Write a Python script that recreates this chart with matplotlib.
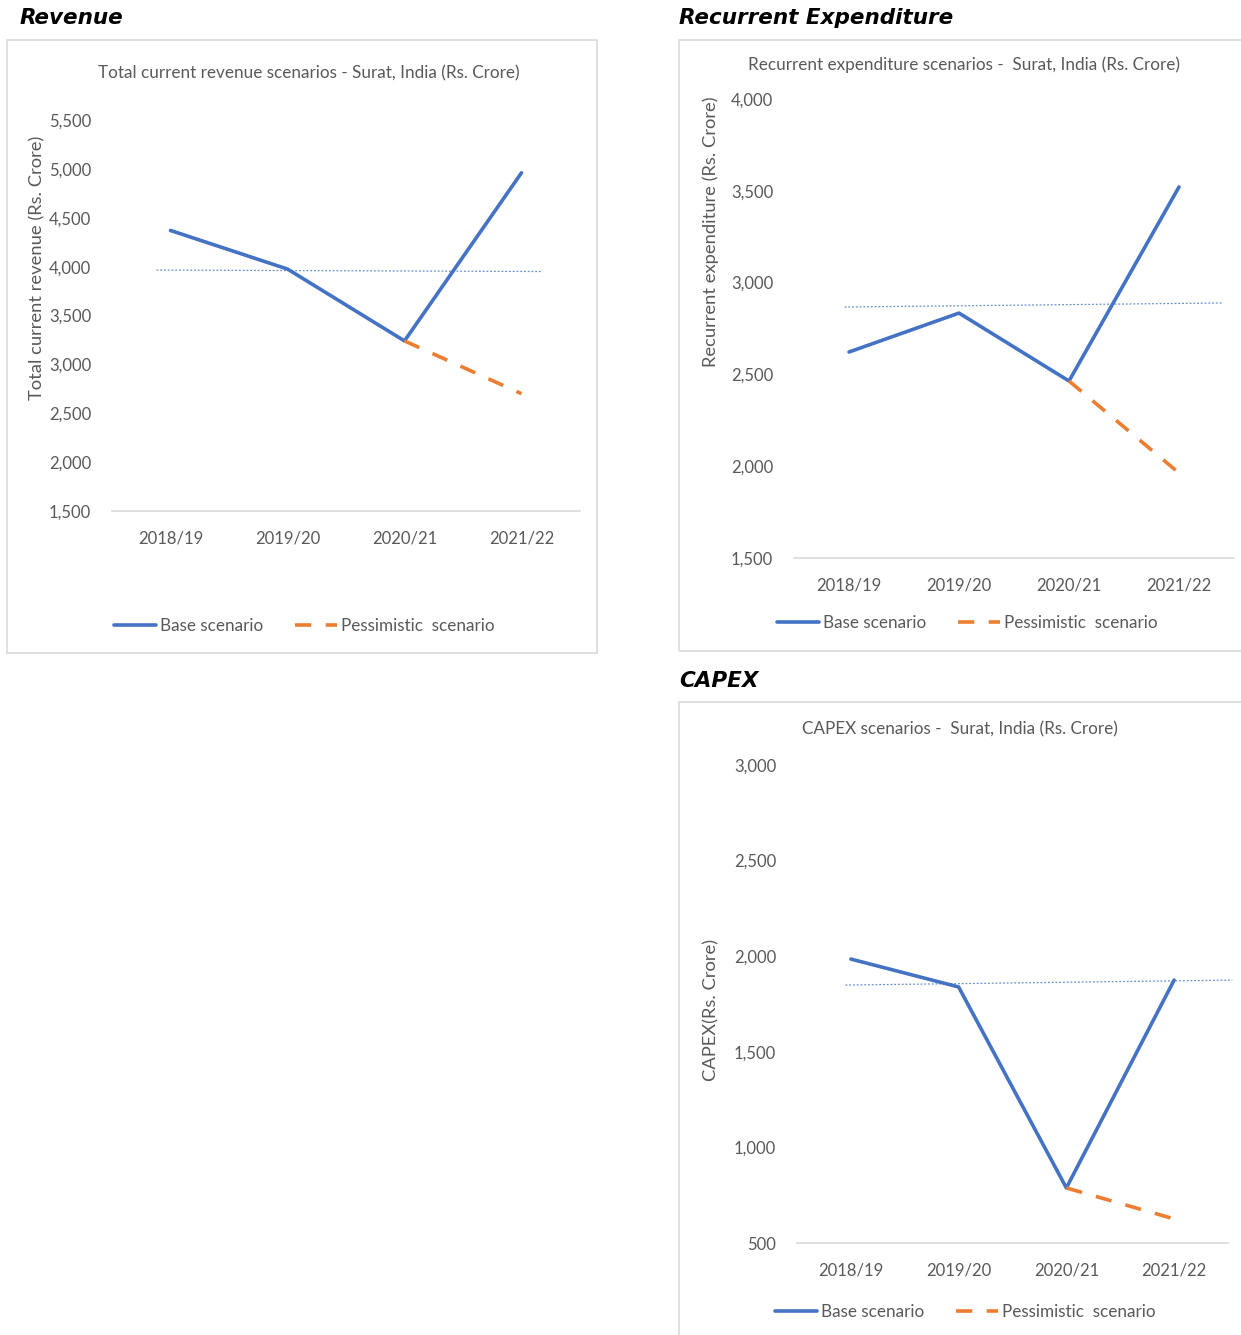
import numpy as np
import matplotlib
matplotlib.use("Agg")
import matplotlib.pyplot as plt
from matplotlib.patches import Rectangle

plt.rcParams['font.family'] = ['Lato', 'DejaVu Sans']

# data
years = ['2018/19', '2019/20', '2020/21', '2021/22']

revenue_base = [4370, 3975, 3240, 4960]
revenue_pess = [np.nan, np.nan, 3240, 2700]
revenue_ref = [3965, 3950]

recurrent_base = [2622, 2834, 2464, 3521]
recurrent_pess = [np.nan, np.nan, 2464, 1963]
recurrent_ref = [2867, 2889]

capex_base = [1985, 1839, 788, 1875]
capex_pess = [np.nan, np.nan, 788, 626]
capex_ref = [1849, 1875]

BLUE = '#4472C4'
ORANGE = '#ED7D31'
GREY = '#595959'
LIGHT = '#D9D9D9'

W, H = 1241, 1335
fig = plt.figure(figsize=(W / 100, H / 100), dpi=100)


def px_axes(x0, y0, x1, y1):
    # pixel box (top-left origin) -> figure axes
    return fig.add_axes([x0 / W, 1 - y1 / H, (x1 - x0) / W, (y1 - y0) / H])


def panel_box(x0, y0, x1, y1):
    fig.patches.append(Rectangle((x0 / W, 1 - y1 / H), (x1 - x0) / W, (y1 - y0) / H,
                                 transform=fig.transFigure, fill=False,
                                 edgecolor=LIGHT, lw=1.2))


def draw(ax, base, pess, ref, ref_span, ylim, step, title, ylabel, title_xy, ylab_xy, leg_xy):
    x = np.arange(len(years))
    ax.plot(x, base, color=BLUE, lw=2.6, solid_capstyle='round', label='Base scenario')
    ax.plot(x, pess, color=ORANGE, lw=2.6, dashes=(4.5, 4), label='Pessimistic  scenario')
    ax.plot(ref_span, ref, color=BLUE, lw=0.9, ls=(0, (1.5, 1.5)), alpha=0.8, clip_on=False)
    ax.set_xlim(-0.5, 3.5)
    ax.set_ylim(*ylim)
    ticks = np.arange(ylim[0], ylim[1] + 1, step)
    ax.set_yticks(ticks)
    ax.set_yticklabels([f'{v:,}' for v in ticks])
    ax.set_xticks(x)
    ax.set_xticklabels(years)
    for s in ['top', 'right', 'left']:
        ax.spines[s].set_visible(False)
    ax.spines['bottom'].set_color(LIGHT)
    ax.spines['bottom'].set_linewidth(1.2)
    ax.tick_params(length=0, colors=GREY, labelsize=12)
    ax.tick_params(axis='y', pad=15)
    ax.tick_params(axis='x', pad=14)
    fig.text(title_xy[0] / W, 1 - title_xy[1] / H, title, ha='center', va='center',
             fontsize=12.3, color=GREY)
    fig.text(ylab_xy[0] / W, 1 - ylab_xy[1] / H, ylabel, ha='center', va='center',
             rotation=90, fontsize=13.2, color=GREY)
    ax.legend(loc='center', bbox_to_anchor=(leg_xy[0] / W, 1 - leg_xy[1] / H),
              bbox_transform=fig.transFigure, ncol=2, frameon=False, fontsize=12.3,
              handlelength=2.5, handletextpad=0.2, columnspacing=1.85, labelcolor=GREY)


# panel frames
panel_box(7, 40, 597, 653)
panel_box(679, 40, 1245, 651)
panel_box(679, 702, 1245, 1340)

# headings
head = dict(fontsize=15.5, fontweight='bold', fontstyle='italic', ha='left', va='center',
            family=['DejaVu Sans'])
fig.text(20 / W, 1 - 18 / H, 'Revenue', **head)
fig.text(679 / W, 1 - 18 / H, 'Recurrent Expenditure', **head)
fig.text(679 / W, 1 - 681 / H, 'CAPEX', **head)

ax1 = px_axes(112, 120, 580, 511)
draw(ax1, revenue_base, revenue_pess, revenue_ref, [-0.12, 3.18], (1500, 5500), 500,
     'Total current revenue scenarios - Surat, India (Rs. Crore)',
     'Total current revenue (Rs. Crore)', (309, 73), (37, 268), (304, 626))

ax2 = px_axes(794, 99, 1234, 558)
draw(ax2, recurrent_base, recurrent_pess, recurrent_ref, [-0.04, 3.39], (1500, 4000), 500,
     'Recurrent expenditure scenarios -  Surat, India (Rs. Crore)',
     'Recurrent expenditure (Rs. Crore)', (964, 65), (711, 232), (967, 623))

ax3 = px_axes(797, 765, 1228, 1243)
draw(ax3, capex_base, capex_pess, capex_ref, [-0.05, 3.54], (500, 3000), 500,
     'CAPEX scenarios -  Surat, India (Rs. Crore)',
     'CAPEX(Rs. Crore)', (960, 729), (711, 1010), (965, 1312))

fig.savefig('out.png', dpi=100)
